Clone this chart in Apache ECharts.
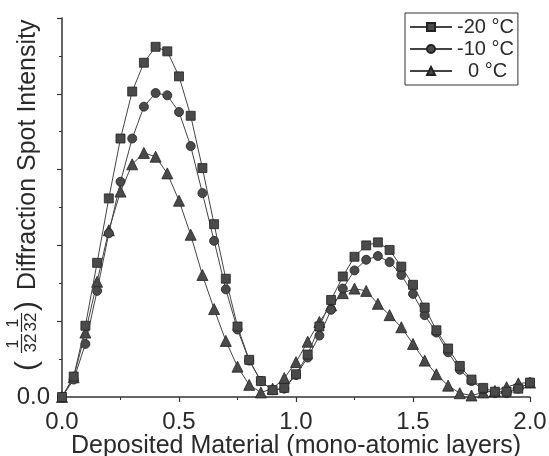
<!DOCTYPE html>
<html>
<head>
<meta charset="utf-8">
<script src="https://cdn.jsdelivr.net/npm/echarts@6/dist/echarts.min.js"></script>
<style>
  html, body { margin: 0; padding: 0; background: #fff; }
  #chart { width: 549px; height: 456px; }
</style>
</head>
<body>
<div id="chart"></div>
<script>
// deposited material (mono-atomic layers)
const coverage = [0, 0.05, 0.1, 0.15, 0.2, 0.25, 0.3, 0.35, 0.4, 0.45, 0.5, 0.55, 0.6, 0.65, 0.7,
  0.75, 0.8, 0.85, 0.9, 0.95, 1.0, 1.05, 1.1, 1.15, 1.2, 1.25, 1.3, 1.35, 1.4, 1.45, 1.5,
  1.55, 1.6, 1.65, 1.7, 1.75, 1.8, 1.85, 1.9, 1.95, 2.0];

const minus20 = [0, 0.27, 0.94, 1.77, 2.62, 3.41, 4.03, 4.41, 4.62, 4.56, 4.23, 3.71, 3.02, 2.28, 1.56,
  0.93, 0.49, 0.21, 0.09, 0.12, 0.30, 0.56, 0.93, 1.28, 1.59, 1.85, 2.00, 2.04, 1.94, 1.72, 1.48,
  1.18, 0.88, 0.64, 0.41, 0.23, 0.12, 0.07, 0.07, 0.11, 0.19];

const minus10 = [0, 0.23, 0.70, 1.40, 2.16, 2.84, 3.41, 3.83, 4.01, 3.98, 3.76, 3.31, 2.69, 2.06, 1.42,
  0.89, 0.48, 0.21, 0.09, 0.11, 0.29, 0.52, 0.81, 1.15, 1.43, 1.67, 1.81, 1.86, 1.78, 1.61, 1.36,
  1.08, 0.85, 0.59, 0.36, 0.21, 0.10, 0.05, 0.05, 0.11, 0.19];

const zero = [0, 0.26, 0.85, 1.52, 2.20, 2.71, 3.07, 3.22, 3.17, 2.95, 2.59, 2.14, 1.61, 1.16, 0.74,
  0.40, 0.16, 0.06, 0.11, 0.25, 0.46, 0.73, 0.99, 1.21, 1.37, 1.43, 1.40, 1.23, 1.08, 0.92, 0.70,
  0.48, 0.30, 0.15, 0.05, 0.02, 0.06, 0.08, 0.13, 0.18, 0.19];

const legendNames = ['-20 °C', '-10 °C', '  0 °C'];
const symbols = ['rect', 'circle', 'triangle'];
const xTicks = ['0.0', '0.5', '1.0', '1.5', '2.0'];

const font = 'Liberation Sans, Arial, sans-serif';
const ink = '#2a2a2a';

function pairs(ys) {
  return coverage.map((x, i) => [x, ys[i]]);
}

const chart = echarts.init(document.getElementById('chart'));

const seriesData = [minus20, minus10, zero];
const series = seriesData.map((ys, i) => ({
  name: legendNames[i],
  type: 'line',
  data: pairs(ys),
  symbol: symbols[i],
  symbolSize: i === 2 ? 11 : 9,
  showAllSymbol: true,
  lineStyle: { color: '#444', width: 1 },
  itemStyle: { color: '#4a4a4a', borderColor: '#222', borderWidth: 0.8 },
  z: 3 - i,
  animation: false
}));

chart.setOption({
  animation: false,
  backgroundColor: '#fff',
  grid: { left: 62, right: 19, top: 18, bottom: 59, outerBoundsMode: 'none', containLabel: false },
  legend: {
    orient: 'vertical',
    left: 405,
    top: 13,
    padding: [4, 4, 4, 4],
    itemGap: 2,
    itemWidth: 42,
    itemHeight: 10,
    borderColor: '#333',
    borderWidth: 1,
    textStyle: { fontFamily: font, fontSize: 20, color: ink, padding: [0, 0, 0, 0] },
    data: legendNames
  },
  xAxis: {
    type: 'value',
    min: 0,
    max: 2,
    interval: 0.5,
    name: 'Deposited Material (mono-atomic layers)',
    nameLocation: 'middle',
    nameGap: 37,
    nameMoveOverlap: false,
    nameTextStyle: { fontFamily: font, fontSize: 25, color: ink },
    axisLine: { lineStyle: { color: '#333', width: 1.5 } },
    axisTick: { length: 5, lineStyle: { color: '#333', width: 1.2 } },
    minorTick: { show: true, splitNumber: 2, length: 3, lineStyle: { color: '#333' } },
    axisLabel: {
      fontFamily: font, fontSize: 24, color: ink, margin: 13,
      formatter: v => xTicks[Math.round(v / 0.5)]
    },
    splitLine: { show: false }
  },
  yAxis: {
    type: 'value',
    min: 0,
    max: 5,
    interval: 1,
    axisLine: { show: true, lineStyle: { color: '#333', width: 1.5 } },
    axisTick: { show: true, length: 5, lineStyle: { color: '#333', width: 1.2 } },
    minorTick: { show: true, splitNumber: 2, length: 3, lineStyle: { color: '#333' } },
    axisLabel: {
      fontFamily: font, fontSize: 24, color: ink, margin: 12,
      formatter: v => (v === 0 ? '0.0' : '')
    },
    splitLine: { show: false }
  },
  graphic: [{
    type: 'group',
    x: 28,
    y: 372,
    rotation: Math.PI / 2,
    children: [
      { type: 'text', x: 1, y: 0, style: { text: '(', font: '30px ' + font, fill: ink, verticalAlign: 'middle' } },
      { type: 'text', x: 28, y: -14.5, style: { text: '1', font: '16px ' + font, fill: ink, align: 'center', verticalAlign: 'middle' } },
      { type: 'line', shape: { x1: 19, y1: -6.5, x2: 38, y2: -6.5 }, style: { stroke: ink, lineWidth: 1.2 } },
      { type: 'text', x: 29, y: 3.5, style: { text: '32', font: '17px ' + font, fill: ink, align: 'center', verticalAlign: 'middle' } },
      { type: 'text', x: 49, y: -14.5, style: { text: '1', font: '16px ' + font, fill: ink, align: 'center', verticalAlign: 'middle' } },
      { type: 'line', shape: { x1: 40, y1: -6.5, x2: 59, y2: -6.5 }, style: { stroke: ink, lineWidth: 1.2 } },
      { type: 'text', x: 50, y: 3.5, style: { text: '32', font: '17px ' + font, fill: ink, align: 'center', verticalAlign: 'middle' } },
      { type: 'text', x: 61, y: 0, style: { text: ')', font: '30px ' + font, fill: ink, verticalAlign: 'middle' } },
      { type: 'text', x: 82, y: 0, style: { text: 'Diffraction Spot Intensity', font: '25px ' + font, fill: ink, verticalAlign: 'middle' } }
    ]
  }],
  series: series
});
</script>
</body>
</html>
